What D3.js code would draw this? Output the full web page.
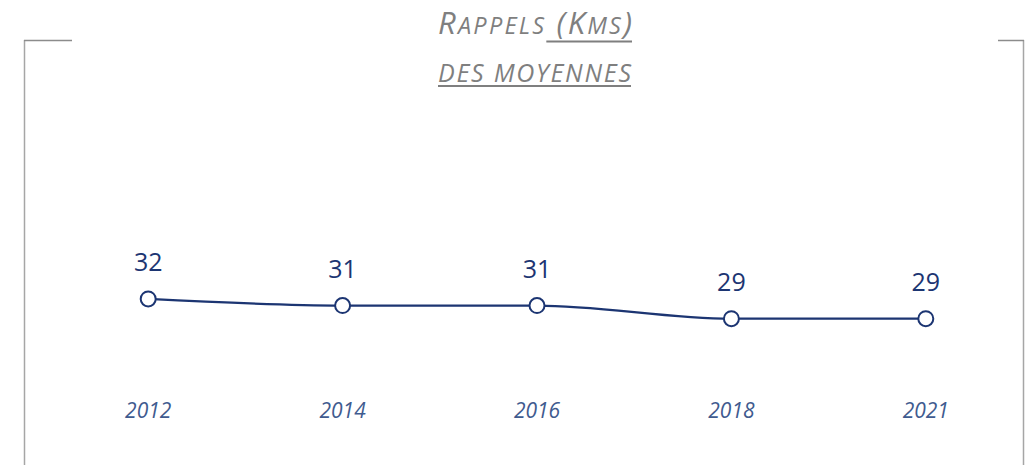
<!DOCTYPE html>
<html><head><meta charset="utf-8">
<script src="https://cdn.jsdelivr.net/npm/d3@7"></script>
<style>
html,body{margin:0;padding:0;background:#fff;}
svg{display:block;}
text{font-family:"Open Sans",sans-serif;}
</style></head>
<body>
<svg id="chart" width="1033" height="465"></svg>
<script>
const years = ["2012","2014","2016","2018","2021"];
const values = [32, 31, 31, 29, 29];
const valueLabels = ["32","31","31","29","29"];

const svg = d3.select("#chart");
const W = 1033, H = 465;

// frame
const frame = svg.append("g");
frame.append("line").attr("x1",24.5).attr("x2",24.5).attr("y1",40).attr("y2",H).attr("stroke","#a6a6a6").attr("stroke-width",1.5);
frame.append("line").attr("x1",24).attr("x2",72).attr("y1",40.5).attr("y2",40.5).attr("stroke","#8c8c8c").attr("stroke-width",1.5);
frame.append("line").attr("x1",1023.5).attr("x2",1023.5).attr("y1",40).attr("y2",H).attr("stroke","#a6a6a6").attr("stroke-width",1.5);
frame.append("line").attr("x1",998).attr("x2",1024).attr("y1",40.5).attr("y2",40.5).attr("stroke","#8c8c8c").attr("stroke-width",1.5);

// titles
const grey = "#7f7f7f";
const t1 = svg.append("text").attr("x",438).attr("y",33.5)
  .attr("fill",grey).attr("font-style","italic")
  .attr("textLength",194).attr("lengthAdjust","spacing");
const parts = [["R",31],["APPELS",23.5],[" (",31],["K",31],["MS",23.5],[")",31]];
parts.forEach(p=>{
  t1.append("tspan").attr("font-size",p[1]).text(p[0]);
});
const n1 = t1.node();
const ulStart = n1.getStartPositionOfChar(7).x;
const ulEnd = n1.getEndPositionOfChar(n1.getNumberOfChars()-1).x;
svg.append("line").attr("x1",ulStart).attr("x2",ulEnd).attr("y1",41.5).attr("y2",41.5)
  .attr("stroke",grey).attr("stroke-width",2);

const t2 = svg.append("text").attr("x",438).attr("y",81.5)
  .attr("fill",grey).attr("font-style","italic").attr("font-size",25)
  .attr("textLength",193).attr("lengthAdjust","spacing")
  .text("DES MOYENNES");
const n2 = t2.node();
svg.append("line").attr("x1",n2.getStartPositionOfChar(0).x).attr("x2",n2.getEndPositionOfChar(n2.getNumberOfChars()-1).x)
  .attr("y1",86).attr("y2",86).attr("stroke",grey).attr("stroke-width",2);

// scales
const x = d3.scaleBand().domain(years).range([51, 1023]);
const y = d3.scaleLinear().domain([20, 40]).range([377.8, 246.4]);
const cx = d => x(d) + x.bandwidth()/2;

const navy = "#1c3572";
const data = years.map((yr,i)=>({yr, v: values[i], lab: valueLabels[i]}));

svg.append("path").datum(data)
  .attr("fill","none").attr("stroke",navy).attr("stroke-width",2.2)
  .attr("d", d3.line().x(d=>cx(d.yr)).y(d=>y(d.v)).curve(d3.curveMonotoneX));

svg.selectAll("circle.pt").data(data).enter().append("circle")
  .attr("class","pt").attr("cx",d=>cx(d.yr)).attr("cy",d=>y(d.v)).attr("r",7.5)
  .attr("fill","#fff").attr("stroke",navy).attr("stroke-width",2);

svg.selectAll("text.val").data(data).enter().append("text")
  .attr("class","val").attr("x",d=>cx(d.yr)).attr("y",d=>y(d.v)-28)
  .attr("text-anchor","middle").attr("font-size",25).attr("fill",navy)
  .text(d=>d.lab);

// x axis labels (no axis line)
const xAxis = d3.axisBottom(x).tickSize(0).tickPadding(0);
const gx = svg.append("g").attr("transform","translate(0,418)").call(xAxis);
gx.select(".domain").remove();
gx.selectAll("text").attr("dy",0).attr("font-size",21).attr("font-style","italic")
  .attr("fill","#3f5b8f").style("font-family","'Open Sans',sans-serif");
</script>
</body></html>
